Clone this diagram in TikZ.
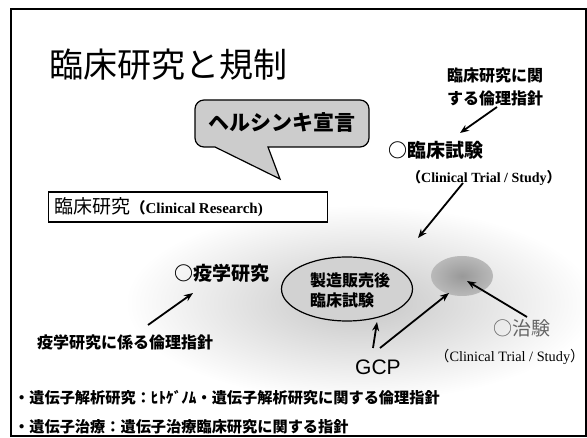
\documentclass[tikz,border=0pt]{standalone}
\usepackage{fontspec}
\setmainfont{Liberation Serif}
\newfontfamily\cjk[BoldFont={Noto Sans CJK JP Black}]{Noto Sans CJK JP}
\newfontfamily\arialf{Liberation Sans}
\usetikzlibrary{arrows.meta,shapes.geometric}
\begin{document}
\begin{tikzpicture}[x=1pt,y=-1pt,
  arr/.style={line width=1.8pt,-{Stealth[length=9pt,width=7pt]}},
  lbl/.style={inner sep=0pt,anchor=west},
  jpb/.style={lbl,font=\cjk\bfseries},
]
\useasboundingbox (0,0) rectangle (587,438);
\fill[white] (0,0) rectangle (587,438);
% stippled background cloud
\shade[inner color=gray!45,outer color=white] (360,303) ellipse [x radius=235,y radius=98];
% frame
\draw[line width=1.5pt] (11,9) rectangle (586,436);

% title
\node[lbl] (title) at (49,65) {\cjk\fontsize{34}{40}\selectfont 臨床研究と規制};

% guideline top right
\node[inner sep=0pt,align=center,font={\cjk\bfseries\fontsize{16}{23}\selectfont}] (guide) at (495,87)
  {臨床研究に関\\する倫理指針};
\node[jpb] (trial) at (388,150) {\fontsize{19}{22}\selectfont ○臨床試験};
\node[lbl] (ctA) at (407,178) {\fontsize{14}{16}\selectfont\bfseries{\cjk （}Clinical Trial / Study{\cjk ）}};

% speech bubble
\draw[fill=gray!40,line width=1.2pt] (195,124) [rounded corners=9] -- (195,100) -- (369,100) -- (369,147) [sharp corners] -- (268,147) -- (280,179) -- (215,147) [rounded corners=9] -- (195,147) -- cycle;
\node[inner sep=0pt] (helsinki) at (282,123) {\cjk\bfseries\fontsize{21}{24}\selectfont ヘルシンキ宣言};

% clinical research box
\node[draw,line width=1.2pt,fill=white,anchor=west,inner xsep=6pt,text width=267pt,minimum height=30pt,align=left] (crbox) at (48,207)
  {{\cjk\fontsize{19}{22}\selectfont 臨床研究}{\fontsize{15}{17}\selectfont\bfseries{\cjk （}Clinical Research)}};

% epidemiology
\node[jpb] (epi) at (174,273) {\fontsize{19}{22}\selectfont ○疫学研究};
\node[jpb] (epiguide) at (37,342) {\fontsize{16}{18}\selectfont 疫学研究に係る倫理指針};

% post-marketing ellipse
\node[draw,ellipse,line width=1.2pt,fill=gray!35,minimum width=131pt,minimum height=64pt,inner sep=0pt] (post) at (347,289) {};
\node[inner sep=0pt,align=left,font={\cjk\bfseries\fontsize{16}{20}\selectfont}] (posttext) at (350,290) {製造販売後\\臨床試験};

% chiken dark spot
\shade[inner color=gray!80,outer color=gray!55] (462,276) ellipse [x radius=31,y radius=20];
\node[minimum width=62pt,minimum height=40pt,inner sep=0pt] (spot) at (462,276) {};

\node[lbl] (chiken) at (493,328) {\color{gray!80!black}\cjk\fontsize{19}{22}\selectfont ○治験};
\node[lbl] (ctB) at (435,357) {\fontsize{14.3}{16}\selectfont{\cjk （}Clinical Trial / Study{\cjk ）}};

\node[lbl] (gcp) at (355,367) {\arialf\fontsize{21}{24}\selectfont GCP};

% bottom lines
\node[jpb] (gene1) at (14,398) {\fontsize{15.2}{17}\selectfont ・遺伝子解析研究：ﾋﾄｹﾞﾉﾑ・遺伝子解析研究に関する倫理指針};
\node[jpb] (gene2) at (14,427) {\fontsize{15.2}{17}\selectfont ・遺伝子治療：遺伝子治療臨床研究に関する指針};

% arrows
\coordinate (a1s) at (497,107);
\coordinate (a1e) at (460,133);
\coordinate (a2s) at (463,183);
\coordinate (a2e) at (418,238);
\coordinate (a3s) at (148,325);
\coordinate (a3e) at (193,293);
\coordinate (a4s) at (373,348);
\coordinate (a4e) at (377,322);
\coordinate (a5s) at (380,348);
\coordinate (a5e) at (449,293);
\coordinate (a6s) at (527,317);
\coordinate (a6e) at (467,281);
\draw[arr] (a1s) -- (a1e);
\draw[arr] (a2s) -- (a2e);
\draw[arr] (a3s) -- (a3e);
\draw[arr] (a4s) -- (a4e);
\draw[arr] (a5s) -- (a5e);
\draw[arr] (a6s) -- (a6e);
\end{tikzpicture}
\end{document}
